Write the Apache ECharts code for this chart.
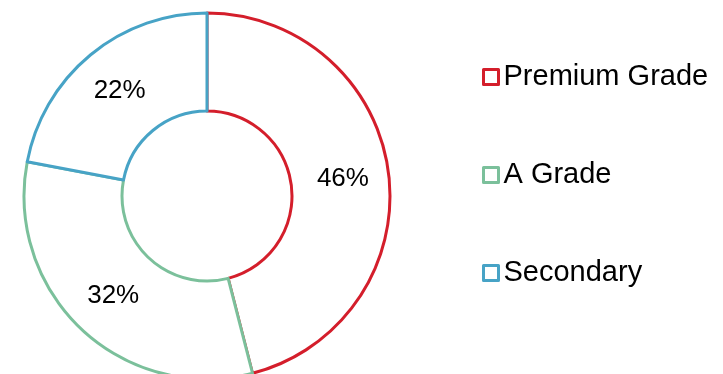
<!DOCTYPE html>
<html>
<head>
<meta charset="utf-8">
<script src="https://cdn.jsdelivr.net/npm/echarts@6/dist/echarts.min.js"></script>
<style>
html,body{margin:0;padding:0;background:#fff;}
#main{width:723px;height:374px;}
</style>
</head>
<body>
<div id="main"></div>
<script>
var categories = ['Premium Grade', 'A Grade', 'Secondary'];
var values = [46, 32, 22];
var colors = ['#D41E2B', '#7BC09B', '#47A3C6'];

var chart = echarts.init(document.getElementById('main'), null, {renderer: 'canvas'});
var data = categories.map(function (c, i) {
  return {
    name: c,
    value: values[i],
    itemStyle: {color: '#ffffff', borderColor: colors[i], borderWidth: 3}
  };
});
chart.setOption({
  animation: false,
  backgroundColor: '#ffffff',
  legend: {
    orient: 'vertical',
    left: 482,
    top: 62,
    padding: 0,
    itemWidth: 15,
    itemHeight: 15,
    itemGap: 68,
    icon: 'rect',
    itemStyle: {borderWidth: 3},
    textStyle: {fontFamily: 'Liberation Sans, Arial, sans-serif', fontSize: 29, color: '#000', lineHeight: 30},
    data: categories
  },
  series: [{
    type: 'pie',
    center: [207, 196],
    radius: [85, 183],
    startAngle: 90,
    clockwise: true,
    silent: true,
    label: {
      show: true,
      position: 'inside',
      formatter: '{c}%',
      color: '#000',
      fontFamily: 'Liberation Sans, Arial, sans-serif',
      fontSize: 26
    },
    labelLine: {show: false},
    emphasis: {disabled: true},
    data: data
  }]
});
</script>
</body>
</html>
